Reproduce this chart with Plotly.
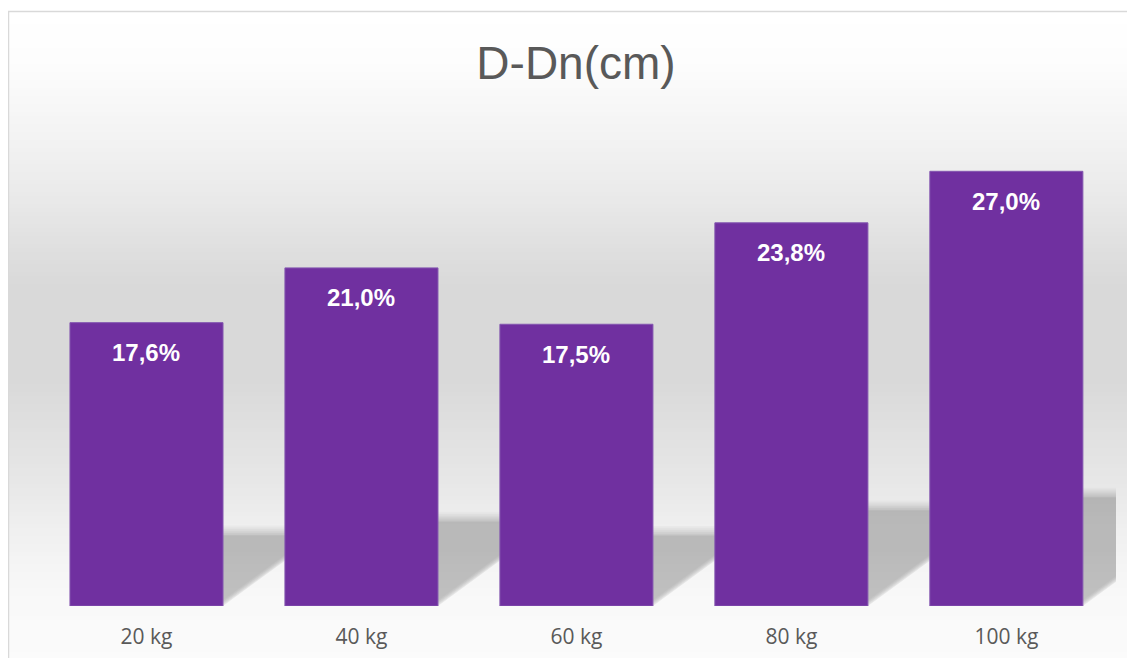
import plotly.graph_objects as go

# ---- Data ----
categories = ["20 kg", "40 kg", "60 kg", "80 kg", "100 kg"]
values = [17.6, 21.0, 17.5, 23.8, 27.0]
title_text = "D-Dn(cm)"

# ---- Layout constants (screen pixels; page body adds 8px offset) ----
OFF = 8
W, H = 1135 - OFF, 658 - OFF
PL, PR = 39, 1116      # plot area left/right on screen
PT, PB = 123, 606      # plot area top/bottom on screen
Y_MAX = 30
BAR_COLOR = "#7030A0"


def px_x(x):
    return (x - PL) / (PR - PL)


def px_y(y):
    return (PB - y) / (PB - PT)


fig = go.Figure()

fig.add_trace(go.Bar(
    x=list(range(len(categories))),
    y=values,
    marker=dict(color=BAR_COLOR, line=dict(color="#8457b0", width=1)),
    width=0.712,
    hoverinfo="x+y",
))

shapes = []

# ---- Background gradient (white -> gray -> light) ----
stops = [(11, 255), (60, 253), (100, 248), (150, 241), (200, 233), (250, 223),
         (285, 217), (380, 217), (430, 224), (480, 231), (520, 238),
         (560, 244), (600, 249), (670, 251)]
step = 4
y = 12
while y < 670:
    yc = y + step / 2
    c = 251
    for (y0, c0), (y1, c1) in zip(stops[:-1], stops[1:]):
        if y0 <= yc <= y1:
            c = round(c0 + (c1 - c0) * (yc - y0) / (y1 - y0))
            break
    shapes.append(dict(type="rect", xref="paper", yref="paper",
                       x0=px_x(9), x1=px_x(1150), y0=px_y(y + step + 0.5), y1=px_y(y),
                       fillcolor=f"rgb({c},{c},{c})", line=dict(width=0), layer="below"))
    y += step

# ---- Border ----
shapes.append(dict(type="rect", xref="paper", yref="paper",
                   x0=px_x(8.5), x1=px_x(1150), y0=px_y(680), y1=px_y(11.5),
                   line=dict(color="#d9d9d9", width=1.5), fillcolor="rgba(0,0,0,0)",
                   layer="below"))

# ---- Floor shadows cast by the bars (soft edges via stacked layers) ----
half = 0.356
for i, v in enumerate(values):
    dy = 0.25 * v
    dx = v * 0.0256
    layers = [(1.0, 0.025), (0.8, 0.03), (0.6, 0.035), (0.4, 0.04), (0.2, 0.045), (0.0, 0.07)]
    for grow, alpha in layers:
        gy = grow * 0.6           # extend top edge upward (value units)
        sh = grow * 0.035         # shift diagonal edge (category units)
        path = (f"M {i - half} 0 L {i + half - sh} 0 "
                f"L {i + half + dx - sh} {dy} "
                f"L {i + half + dx + sh} {dy + gy} "
                f"L {i - half + dx} {dy + gy} Z")
        shapes.append(dict(type="path", xref="x", yref="y", path=path,
                           fillcolor=f"rgba(0,0,0,{alpha})", line=dict(width=0),
                           layer="below"))

# ---- Value labels ----
for i, v in enumerate(values):
    fig.add_annotation(
        x=i, y=v, yshift=-30,
        text=f"<b>{v:.1f}%</b>".replace(".", ","),
        showarrow=False, yanchor="middle",
        font=dict(family="Liberation Sans, Arial", size=24, color="white"),
    )

fig.update_xaxes(
    range=[-0.5, 4.51],
    tickmode="array",
    tickvals=list(range(len(categories))),
    ticktext=categories,
    ticks="outside", ticklen=12, tickcolor="rgba(0,0,0,0)",
    tickfont=dict(family="Open Sans", size=21, color="#595959"),
    showgrid=False, zeroline=False, showline=False, automargin=False,
)
fig.update_yaxes(visible=False, range=[0, Y_MAX], showgrid=False, automargin=False)

fig.update_layout(
    width=W, height=H,
    margin=dict(l=PL - OFF, r=W - (PR - OFF), t=PT - OFF, b=H - (PB - OFF),
                pad=0, autoexpand=False),
    paper_bgcolor="white",
    plot_bgcolor="rgba(0,0,0,0)",
    shapes=shapes,
    showlegend=False,
    title=dict(text=title_text, x=(576 - OFF) / W, xanchor="center",
               y=1 - (65 - OFF - 2) / H, yanchor="middle",
               font=dict(family="Liberation Sans, Arial", size=46, color="#595959")),
)

fig.write_html("out.html")
